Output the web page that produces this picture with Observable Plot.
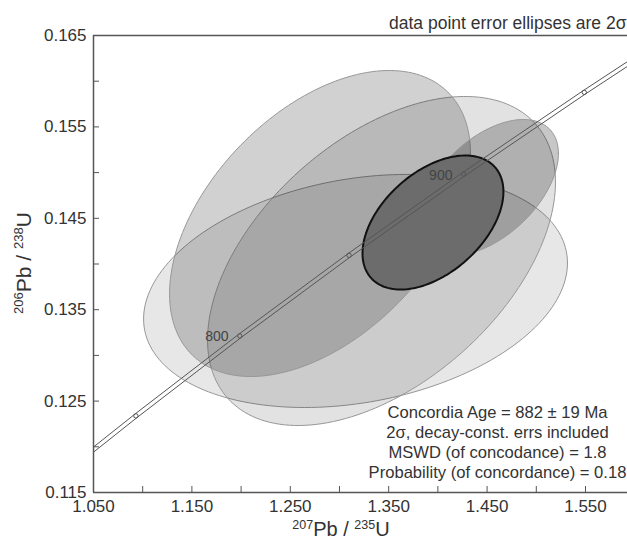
<!DOCTYPE html>
<html><head><meta charset="utf-8">
<script src="https://cdn.jsdelivr.net/npm/d3@7"></script>
<script src="https://cdn.jsdelivr.net/npm/@observablehq/plot@0.6"></script>
<style>body{margin:0;background:#fff;} svg{display:block;}</style>
</head><body><div id="chart"></div>
<script>
// ---- data: 2σ error ellipses (207Pb/235U, 206Pb/238U) ----
const ellipseId  = ["C", "B", "A", "D", "E"];
const ellipseX   = [1.3163, 1.3427, 1.2802, 1.4514, 1.3950];   // 207Pb/235U centre
const ellipseSX  = [0.2154, 0.1768, 0.1529, 0.0711, 0.0716];   // 2σ half-width
const ellipseY   = [0.13705, 0.14033, 0.14443, 0.14837, 0.14454]; // 206Pb/238U centre
const ellipseSY  = [0.01275, 0.01800, 0.01674, 0.00744, 0.00733]; // 2σ half-height
const ellipseRho = [0.24, 0.48, 0.46, 0.50, 0.46];              // error correlation

// ---- concordia curve (age in Ma) ----
const concAge = [720, 750, 800, 850, 900, 950, 980, 1000];
const concX   = [1.032145, 1.093083, 1.198731, 1.309713, 1.426296, 1.548764, 1.625190, 1.677409];
const concY   = [0.118166, 0.123382, 0.132129, 0.140944, 0.149828, 0.158781, 0.164186, 0.167810];
const markAge = [750, 800, 850, 900, 950];
const labelAge = [800, 900];

// ---- axis ticks ----
const xMajor = [1.05, 1.15, 1.25, 1.35, 1.45, 1.55];
const xMinor = [1.10, 1.20, 1.30, 1.40, 1.50];
const yMajor = [0.115, 0.125, 0.135, 0.145, 0.155, 0.165];
const yMinor = [0.120, 0.130, 0.140, 0.150, 0.160];

// ---- texts ----
const titleText = "data point error ellipses are 2σ";
const statsLines = [
  "Concordia Age = 882 ± 19 Ma",
  "2σ, decay-const. errs included",
  "MSWD (of concodance) = 1.8",
  "Probability (of concordance) = 0.18"
];

// ---- styles ----
const ellipseFill    = ["#000", "#000", "#000", "#000", "#6c6c6c"];
const ellipseOpacity = [0.095, 0.115, 0.18, 0.22, 1];
const ellipseStroke  = ["#979797", "#979797", "#979797", "#979797", "#111"];
const ellipseStrokeW = [1, 1, 1, 1, 2];

// build ellipse outlines from centre, 2σ errors and correlation
function ellipsePoints(i) {
  const pts = [];
  const n = 180, r = ellipseRho[i], s = Math.sqrt(1 - r * r);
  for (let k = 0; k <= n; k++) {
    const t = 2 * Math.PI * k / n;
    pts.push({
      x: ellipseX[i] + ellipseSX[i] * Math.cos(t),
      y: ellipseY[i] + ellipseSY[i] * (r * Math.cos(t) + s * Math.sin(t))
    });
  }
  return pts;
}
const conc = concAge.map((a, i) => ({age: a, x: concX[i], y: concY[i]}));
const marks = conc.filter(d => markAge.includes(d.age));
const labels = conc.filter(d => labelAge.includes(d.age));

const font = "Liberation Sans, Arial, Helvetica, sans-serif";
const fmt = d3.format(".3f");

const ellipseMarks = ellipseId.map((id, i) =>
  Plot.line(ellipsePoints(i), {x: "x", y: "y", fill: ellipseFill[i], fillOpacity: ellipseOpacity[i],
    stroke: ellipseStroke[i], strokeWidth: ellipseStrokeW[i], curve: "linear-closed"}));

const plot = Plot.plot({
  width: 627, height: 538,
  marginLeft: 93, marginRight: 0, marginTop: 35, marginBottom: 46,
  x: {domain: [1.05, 1.5927], axis: null},
  y: {domain: [0.115, 0.165], axis: null},
  style: {fontFamily: font, fontSize: "16px", color: "#333", background: "#fff"},
  marks: [
    ...ellipseMarks,
    Plot.line(conc, {x: "x", y: "y", stroke: "#555", strokeWidth: 1, dx: -1.2, dy: -1.6, clip: true}),
    Plot.line(conc, {x: "x", y: "y", stroke: "#555", strokeWidth: 1, dx: 1.2, dy: 1.6, clip: true}),
    Plot.dot(marks, {x: "x", y: "y", r: 2.2, stroke: "#555", strokeWidth: 1, fill: "none"}),
    Plot.text(labels, {x: "x", y: "y", text: d => String(d.age), dx: -23, dy: 1, fontSize: 14, fill: "#444"}),
    Plot.ruleX([1.05], {stroke: "#555", strokeWidth: 1.5}),
    Plot.ruleY([0.115], {stroke: "#555", strokeWidth: 1.5}),
    Plot.ruleY([0.165], {stroke: "#555", strokeWidth: 1.5}),
    Plot.axisX({ticks: [...xMajor, ...xMinor], tickSize: -6, tickFormat: () => "", stroke: "#555", label: null}),
    Plot.axisX({ticks: xMajor, tickSize: 0, tickPadding: 7, tickFormat: fmt, fontSize: 17, fill: "#333", label: null}),
    Plot.axisY({ticks: [...yMajor, ...yMinor], tickSize: -6, tickFormat: () => "", stroke: "#555", label: null}),
    Plot.axisY({ticks: yMajor, tickSize: 0, tickPadding: 7, tickFormat: fmt, fontSize: 17, fill: "#333", label: null}),
    Plot.text([titleText], {frameAnchor: "top-right", dx: -1, dy: -19, textAnchor: "end", fontSize: 17.5, fill: "#333"}),
    Plot.text([statsLines.join("\n")], {frameAnchor: "bottom-right", dx: -130, dy: -15, textAnchor: "middle",
      lineAnchor: "bottom", lineHeight: 1.2, fontSize: 16.6, fill: "#333"})
  ]
});

const svg = d3.select(plot);
// x-axis title  207Pb / 235U
const xt = svg.append("text").attr("x", 341).attr("y", 535.5).attr("text-anchor", "middle")
  .attr("fill", "#333").style("font-family", font).style("font-size", "20px");
xt.append("tspan").text("207").style("font-size", "12.5px").attr("dy", -7);
xt.append("tspan").text("Pb / ").attr("dy", 7);
xt.append("tspan").text("235").style("font-size", "12.5px").attr("dy", -7);
xt.append("tspan").text("U").attr("dy", 7);
// y-axis title  206Pb / 238U
const yt = svg.append("text").attr("transform", "translate(31,263) rotate(-90)").attr("text-anchor", "middle")
  .attr("fill", "#333").style("font-family", font).style("font-size", "21px");
yt.append("tspan").text("206").style("font-size", "13px").attr("dy", -8);
yt.append("tspan").text("Pb / ").attr("dy", 8);
yt.append("tspan").text("238").style("font-size", "13px").attr("dy", -8);
yt.append("tspan").text("U").attr("dy", 8);

document.getElementById("chart").appendChild(plot);
</script>
</body></html>
